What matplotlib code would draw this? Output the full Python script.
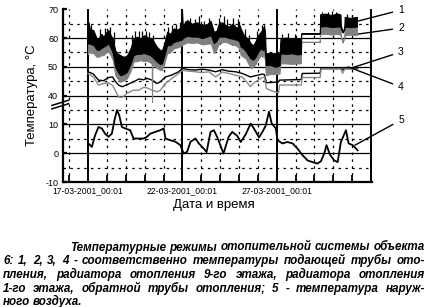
import matplotlib
matplotlib.use("Agg")
import matplotlib.pyplot as plt
import matplotlib.transforms as mtransforms
from matplotlib.ticker import FixedLocator, MultipleLocator

plt.rcParams['font.family'] = ['Liberation Sans', 'DejaVu Sans']

# time axis: days after 17-03-2001 00:01
# bands of series 1 (supply pipe, black) and 2 (radiator 9th floor, gray)
band_day = [0.00, 0.03, 0.10, 0.28, 0.45, 0.55, 0.70, 0.82, 0.95, 1.08, 1.20, 1.30,
            1.44, 1.60, 1.70, 1.90, 2.06, 2.25, 2.41, 2.60, 2.77, 2.95, 3.12, 3.30,
            3.37, 3.39, 3.41, 3.50, 3.65, 3.80, 3.92, 4.05, 4.19, 4.35, 4.54, 4.75,
            4.96, 4.98, 5.02, 5.25, 5.50, 5.78, 6.05, 6.31, 6.50, 6.67, 6.80, 6.93,
            7.11, 7.29, 7.46, 7.64, 7.82, 7.91, 8.00, 8.09, 8.22, 8.35, 8.50, 8.62,
            8.75, 8.88, 9.00, 9.15, 9.25, 9.33, 9.38, 9.42, 9.68, 9.95, 10.15, 10.20,
            10.50, 10.80, 11.10, 11.28, 11.30, 12.28, 12.30, 12.60, 12.90, 13.20, 13.38, 13.40,
            13.50, 13.58, 13.60, 13.90, 14.25]
s1_hi = [61.0, 65.5, 63.0, 62.8, 60.0, 59.9, 61.5, 60.5, 62.0, 62.8, 61.0, 60.0,
         55.8, 54.5, 54.1, 53.5, 54.0, 56.5, 59.9, 60.5, 59.9, 61.0, 60.5, 59.5,
         59.8, 59.9, 59.8, 58.5, 57.0, 56.0, 55.8, 58.5, 62.2, 61.5, 63.4, 63.0,
         64.0, 70.0, 64.5, 66.3, 65.0, 65.5, 64.5, 64.9, 66.0, 62.2, 62.5, 65.1,
         65.5, 64.5, 64.0, 65.0, 64.0, 63.5, 65.0, 63.4, 61.5, 60.5, 59.5, 58.2,
         57.5, 59.0, 61.0, 62.2, 63.0, 64.5, 62.0, 54.7, 55.0, 54.7, 55.0, 59.9,
         60.2, 59.8, 60.0, 60.0, 61.6, 61.6, 68.3, 68.5, 68.0, 68.6, 68.2, 64.5,
         62.0, 64.0, 67.4, 67.0, 67.4]
s1_lo = [58.0, 58.5, 58.0, 57.6, 56.0, 55.8, 56.5, 57.0, 57.5, 58.2, 56.5, 55.0,
         50.0, 48.0, 47.1, 47.5, 48.3, 51.0, 54.1, 54.5, 54.5, 54.8, 54.5, 54.0,
         53.6, 53.5, 53.4, 52.8, 51.8, 51.0, 51.2, 54.0, 57.6, 57.5, 58.7, 59.0,
         59.5, 59.5, 60.0, 60.8, 60.5, 60.5, 60.0, 60.5, 61.0, 58.2, 59.0, 60.5,
         60.5, 60.5, 60.0, 59.8, 59.5, 59.3, 59.0, 57.0, 56.5, 55.5, 54.0, 52.9,
         52.5, 53.5, 55.0, 56.5, 55.8, 56.5, 55.0, 50.6, 50.6, 50.0, 50.5, 54.7,
         54.5, 54.7, 54.3, 54.5, 61.6, 61.6, 64.0, 64.2, 63.8, 64.0, 64.0, 63.0,
         62.0, 63.0, 64.0, 63.8, 64.0]
s2_hi = s1_lo[:76] + [58.7, 58.7] + s1_lo[78:83] + [60.5, 58.5, 60.5] + s1_lo[86:]
s2_lo = [54.5, 55.0, 55.0, 54.7, 53.5, 53.5, 54.0, 54.1, 55.0, 55.2, 54.0, 52.5,
         47.1, 45.5, 44.8, 45.3, 46.0, 48.5, 51.8, 52.0, 52.3, 52.0, 52.1, 51.5,
         51.1, 37.8, 51.0, 50.5, 49.5, 49.0, 48.9, 51.5, 54.7, 55.0, 56.4, 56.8,
         57.4, 57.6, 57.8, 58.5, 58.3, 58.5, 57.8, 58.0, 58.2, 54.7, 56.0, 58.0,
         58.5, 58.7, 58.2, 57.6, 57.5, 57.0, 56.5, 54.1, 53.5, 52.9, 51.0, 49.5,
         50.0, 51.0, 52.5, 54.0, 53.5, 54.0, 52.0, 47.1, 47.5, 47.5, 47.7, 51.2,
         51.2, 51.0, 51.2, 51.2, 58.7, 58.7, 61.3, 61.5, 61.2, 61.4, 61.3, 60.5,
         58.5, 60.5, 61.0, 61.2, 61.0]

# short upward peaks on top of series 1
spike_day = [0.15, 0.62, 0.90, 1.15, 1.35, 2.35, 2.50, 2.70, 2.88, 3.05, 3.25, 3.45,
             4.25, 4.45, 4.65, 4.85, 5.15, 5.40, 5.65, 5.90, 6.15, 6.40, 6.95, 7.20,
             7.38, 7.70, 7.95, 8.30, 8.55, 8.95, 9.20, 10.30, 10.60, 10.95, 12.40, 12.70,
             12.95, 13.15, 13.70, 14.00]
spike_top = [64.5, 63.0, 63.5, 64.0, 62.0, 61.0, 62.5, 62.5, 62.5, 62.5, 62.0, 61.0,
             64.0, 64.5, 65.0, 65.5, 66.0, 67.0, 66.5, 67.5, 66.0, 67.0, 67.0, 67.5,
             66.5, 67.0, 66.5, 63.0, 61.0, 62.5, 64.5, 61.5, 61.8, 61.5, 69.2, 69.0,
             69.3, 69.0, 68.3, 68.0]

# series 3 (radiator 1st floor) and 4 (return pipe)
line_day = [0.00, 0.28, 0.55, 0.82, 1.08, 1.30, 1.44, 1.61, 1.80, 2.06, 2.41, 2.70,
            2.94, 3.12, 3.39, 3.65, 3.83, 4.10, 4.45, 4.80, 5.00, 5.34, 5.69, 6.05,
            6.40, 6.76, 7.11, 7.46, 7.82, 8.17, 8.40, 8.60, 8.80, 9.24, 9.35, 9.45,
            9.80, 10.10, 10.15, 11.30, 11.35, 12.30, 12.35, 13.40, 13.50, 13.60, 14.30]
s3 = [48.3, 47.5, 45.4, 45.2, 46.3, 46.5, 45.0, 43.7, 43.1, 43.8, 44.8, 45.8,
      45.5, 46.0, 45.4, 44.2, 44.8, 46.5, 47.2, 48.3, 49.5, 49.0, 48.9, 49.2,
      48.9, 48.3, 49.0, 48.5, 48.3, 47.7, 47.1, 46.5, 46.8, 47.5, 47.3, 44.5,
      44.6, 44.8, 45.4, 45.6, 47.7, 47.8, 49.6, 49.6, 48.9, 49.6, 49.5]
s4 = [47.7, 46.5, 43.7, 44.2, 44.5, 43.5, 41.9, 39.6, 39.4, 40.8, 41.9, 41.9,
      42.9, 42.7, 41.9, 41.3, 41.9, 44.2, 46.0, 47.7, 48.8, 48.5, 48.3, 48.0,
      48.3, 46.5, 48.2, 47.7, 47.1, 46.5, 44.8, 43.1, 44.5, 46.3, 46.5, 42.5,
      41.5, 41.0, 43.7, 43.7, 46.3, 46.3, 49.2, 49.2, 47.8, 49.2, 49.2]

# series 5 (outdoor air)
air_day = [0.02, 0.20, 0.37, 0.55, 0.73, 0.90, 1.08, 1.26, 1.40, 1.53, 1.65, 1.79,
           1.97, 2.23, 2.41, 2.68, 2.94, 3.12, 3.30, 3.56, 3.83, 4.01, 4.10, 4.36,
           4.63, 4.89, 5.07, 5.25, 5.43, 5.69, 5.87, 6.13, 6.28, 6.49, 6.67, 6.85,
           7.18, 7.45, 7.64, 7.91, 8.09, 8.35, 8.62, 8.79, 9.06, 9.24, 9.41, 9.59,
           9.73, 9.95, 10.04, 10.30, 10.57, 10.84, 11.10, 11.37, 11.63, 11.90, 12.16, 12.34,
           12.52, 12.64, 12.82, 13.05, 13.23, 13.40, 13.67, 13.81, 14.03, 14.29]
air_temp = [3.4, 2.2, 6.2, 9.1, 8.6, 6.8, 5.7, 6.8, 11.5, 15.0, 13.2, 9.1,
            8.6, 8.0, 5.1, 5.1, 5.1, 5.7, 6.8, 7.4, 8.0, 8.6, 5.1, 4.5,
            4.0, 2.8, -0.1, 0.5, 4.0, 5.1, 3.4, 1.6, 0.4, 7.4, 8.0, 5.5,
            -0.1, 5.7, 7.4, 6.0, 3.9, 6.5, 10.3, 8.6, 5.5, 7.4, 9.5, 14.4,
            10.4, 8.6, 4.5, 3.4, 3.9, 3.4, 1.6, -0.7, -2.5, -3.1, -3.6, -2.8,
            -0.1, 2.8, -0.5, -2.5, -3.1, 3.9, 8.0, 3.4, 2.8, 1.0]
AIR_SHIFT = 20  # lower part of the broken axis

y_ticks = [10, 20, 30, 40, 50, 60, 70]
y_labels = ["-10", "0", "10", "40", "50", "60", "70"]
x_ticks = [0, 5, 10, 15]
x_labels = ["17-03-2001_00:01", "22-03-2001_00:01", "27-03-2001_00:01", ""]

caption = ["Температурные режимы отопительной системы объекта",
           "6: 1, 2, 3, 4 - соответственно температуры подающей трубы ото-",
           "пления, радиатора отопления 9-го этажа, радиатора отопления",
           "1-го этажа, обратной трубы отопления; 5 - температура наруж-",
           "ного воздуха."]

W, H = 427, 307
fig = plt.figure(figsize=(W / 100, H / 100), dpi=100)
ax = fig.add_axes([63 / W, 1 - 182 / H, 309 / W, 172.7 / H])

ax.plot(line_day, s3, color="black", lw=1.0, zorder=3)
ax.plot(line_day, s4, color="#8a8a8a", lw=1.0, zorder=3)
ax.fill_between(band_day, s2_lo, s2_hi, color="#808080", lw=0.7, zorder=4)
ax.fill_between(band_day, s1_lo, s1_hi, color="black", lw=0.7, zorder=5)
ax.vlines(spike_day, [v - 4 for v in spike_top], spike_top, color="black", lw=0.9, zorder=5)
ax.plot(air_day, [v + AIR_SHIFT for v in air_temp], color="black", lw=1.3, zorder=5)

ax.set_xlim(-1.33, 15.05)
ax.set_ylim(10, 70)
ax.xaxis.set_major_locator(FixedLocator(x_ticks))
ax.xaxis.set_minor_locator(MultipleLocator(1))
ax.set_xticklabels(x_labels, fontsize=6.2)
ax.yaxis.set_major_locator(FixedLocator(y_ticks))
ax.yaxis.set_minor_locator(MultipleLocator(5))
ax.set_yticklabels(y_labels, fontsize=6.5)
# lift the lowest y label a little, as in the original
lbl = ax.get_yticklabels()[0]
lbl.set_transform(lbl.get_transform() + mtransforms.ScaledTranslation(0, 2.5 / 72, fig.dpi_scale_trans))

ax.grid(which="major", axis="x", color="black", lw=1.4)
ax.grid(which="major", axis="y", color="black", lw=0.9)
ax.grid(which="minor", color="black", lw=0.9, ls=(0, (2, 3.5)))
ax.set_axisbelow(True)
ax.yaxis.get_gridlines()[-1].set_visible(False)

for s in ["top", "right"]:
    ax.spines[s].set_visible(False)
for s in ["left", "bottom"]:
    ax.spines[s].set_linewidth(1.6)
ax.tick_params(axis="y", which="major", direction="in", length=3, width=1.6, pad=3.5)
ax.tick_params(axis="y", which="minor", length=0)
ax.tick_params(axis="x", which="major", direction="in", length=0, pad=3)
ax.tick_params(axis="x", which="minor", direction="in", length=5, width=1.3)

# axis break mark
brk = mtransforms.blended_transform_factory(ax.transAxes, ax.transData)
for y0 in [35.4, 36.6]:
    ax.plot([-0.036, 0.018], [y0, y0 + 1.8], color="black", lw=1.1,
            transform=brk, clip_on=False, zorder=6)

# series numbers
marks = [("1", 14.3, 65.9, 297), ("2", 13.99, 61.1, 279), ("3", 14.0, 49.7, 255),
         ("4", 13.78, 50.0, 220), ("5", 14.15, 22.8, 187)]
for lab, xd, yd, ypix in marks:
    ax.annotate(lab, xy=(xd, yd), xytext=(401, ypix), textcoords="figure pixels",
                fontsize=7.5, ha="center", va="center", annotation_clip=False,
                arrowprops=dict(arrowstyle="-", color="black", lw=1.0,
                                shrinkA=2, shrinkB=0))

fig.text(32 / W, 1 - 95 / H, "Температура, °C", rotation=90, ha="center",
         va="center", fontsize=9.5)
fig.text(214 / W, 1 - 205 / H, "Дата и время", ha="center", va="center", fontsize=9.5)

# caption, justified word by word
fig.canvas.draw()
renderer = fig.canvas.get_renderer()
pix = mtransforms.IdentityTransform()
baselines = [250.5, 264.2, 277.9, 291.6, 305.0]
starts = [70, 3, 3, 3, 3]
right = 425
min_gap = 3.0
rows = []
for i, line in enumerate(caption):
    words = line.split(" ")
    rows.append([fig.text(0, H - baselines[i], w, transform=pix, fontsize=8.4,
                          fontweight="bold", fontstyle="italic", va="baseline")
                 for w in words])

# shrink the font until every justified line fits
scale = 1.0
for i, objs in enumerate(rows[:-1]):
    total = sum(t.get_window_extent(renderer).width for t in objs)
    room = right - starts[i] - min_gap * (len(objs) - 1)
    scale = min(scale, room / total)
for objs in rows:
    for t in objs:
        t.set_fontsize(8.4 * scale)

for i, objs in enumerate(rows):
    widths = [t.get_window_extent(renderer).width for t in objs]
    if i < len(rows) - 1:
        gap = (right - starts[i] - sum(widths)) / (len(objs) - 1)
    else:
        gap = min_gap
    x = starts[i]
    for t, w in zip(objs, widths):
        t.set_x(x)
        x += w + gap

fig.savefig("out.png", dpi=100)
